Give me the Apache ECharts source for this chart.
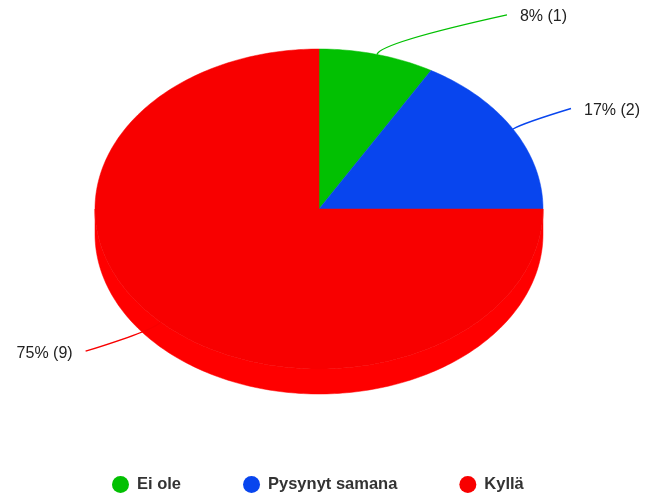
<!DOCTYPE html>
<html>
<head>
<meta charset="utf-8">
<style>
  html, body { margin: 0; padding: 0; background: #ffffff; }
  #chart { width: 646px; height: 493px; }
</style>
<script src="https://cdn.jsdelivr.net/npm/echarts@6/dist/echarts.min.js"></script>
</head>
<body>
<div id="chart"></div>
<script>
// Survey answers and their counts
const categories = ['Ei ole', 'Pysynyt samana', 'Kyllä'];
const counts = [1, 2, 9];

// Slice colours
const sliceColors = ['#02c002', '#0845ee', '#f80000'];

// Tilted pie geometry (pixels)
const geo = { cx: 319, cy: 209, rx: 224, ry: 160, depth: 25 };
// Horizontal reach of each leader line from the slice edge
const leaderReach = [130, 58, 75];

const total = counts.reduce((a, b) => a + b, 0);
const START = -Math.PI / 2;

function sliceRange(i) {
  let before = 0;
  for (let k = 0; k < i; k++) before += counts[k];
  const a = START + 2 * Math.PI * before / total;
  const b = a + 2 * Math.PI * counts[i] / total;
  return [a, b];
}

function ellipsePt(t, dy) {
  return [geo.cx + geo.rx * Math.cos(t), geo.cy + (dy || 0) + geo.ry * Math.sin(t)];
}

function arcPoints(a, b, dy) {
  const n = Math.max(4, Math.ceil(Math.abs(b - a) / (Math.PI / 180)));
  const pts = [];
  for (let j = 0; j <= n; j++) pts.push(ellipsePt(a + (b - a) * j / n, dy));
  return pts;
}

// Parts of [a, b] that lie on the front (lower) half of the ellipse
function frontParts(a, b) {
  const parts = [];
  for (let k = -1; k <= 1; k++) {
    const lo = Math.max(a, 2 * Math.PI * k);
    const hi = Math.min(b, 2 * Math.PI * k + Math.PI);
    if (hi > lo) parts.push([lo, hi]);
  }
  return parts;
}

function makeRenderItem(i) {
  return function (params, api) {
    const value = api.value(0);
    const color = sliceColors[i];
    const sideColor = echarts.color.lift(color, -0.1);
    const [a, b] = sliceRange(i);
    const children = [];

    // Side wall
    frontParts(a, b).forEach(([lo, hi]) => {
      const top = arcPoints(lo, hi, 0);
      const bottom = arcPoints(hi, lo, geo.depth);
      children.push({
        type: 'polygon',
        shape: { points: top.concat(bottom) },
        style: { fill: sideColor, stroke: sideColor, lineWidth: 0.5 }
      });
    });

    // Top face
    const facePts = [[geo.cx, geo.cy]].concat(arcPoints(a, b, 0));
    children.push({
      type: 'polygon',
      shape: { points: facePts },
      style: { fill: color, stroke: color, lineWidth: 0.5 }
    });

    // Leader line and label
    const m = (a + b) / 2;
    const edge = ellipsePt(m, 0);
    const dir = Math.cos(m) >= 0 ? 1 : -1;
    const endX = edge[0] + dir * leaderReach[i];
    const endY = geo.cy + (geo.ry + 41) * Math.sin(m);
    const ctrl = [edge[0] + 12 * Math.cos(m), edge[1] + 12 * Math.sin(m)];
    children.push({
      type: 'bezierCurve',
      shape: { x1: edge[0], y1: edge[1], x2: endX, y2: endY, cpx1: ctrl[0], cpy1: ctrl[1] },
      style: { stroke: color, fill: null, lineWidth: 1.4 }
    });
    const pct = Math.round(100 * value / total);
    children.push({
      type: 'text',
      x: endX + dir * 13,
      y: endY + 2,
      style: {
        text: pct + '% (' + value + ')',
        fill: '#222222',
        font: '16px "Liberation Sans", Arial, sans-serif',
        align: dir > 0 ? 'left' : 'right',
        verticalAlign: 'middle'
      }
    });

    return { type: 'group', children: children };
  };
}

const chart = echarts.init(document.getElementById('chart'), null, { renderer: 'canvas' });

const series = categories.map((name, i) => ({
  type: 'custom',
  name: name,
  coordinateSystem: 'none',
  itemStyle: { color: sliceColors[i] },
  data: [[counts[i]]],
  renderItem: makeRenderItem(i),
  silent: true
}));

chart.setOption({
  animation: false,
  backgroundColor: '#ffffff',
  legend: {
    data: categories,
    left: 107,
    top: 471,
    icon: 'circle',
    itemWidth: 17,
    itemHeight: 17,
    itemGap: 62,
    selectedMode: false,
    textStyle: {
      fontFamily: '"Liberation Sans", Arial, sans-serif',
      fontSize: 16.5,
      fontWeight: 'bold',
      color: '#333333',
      padding: [0, 0, 9, 3]
    }
  },
  series: series
});
</script>
</body>
</html>
